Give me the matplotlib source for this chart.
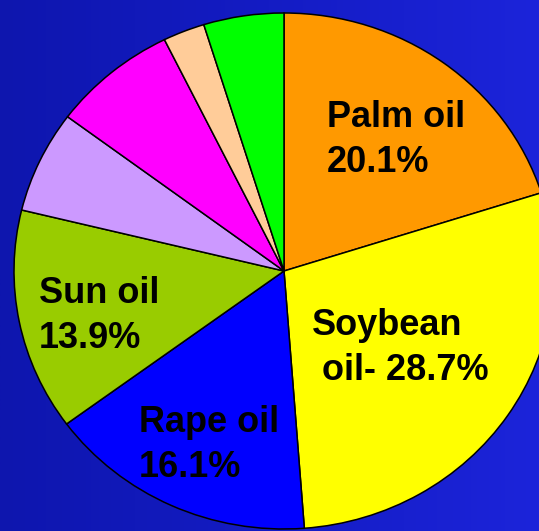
import numpy as np
import matplotlib
matplotlib.use('Agg')
import matplotlib.pyplot as plt
from matplotlib.colors import LinearSegmentedColormap

# 植物油の生産シェア（%）
oils = ['Palm oil', 'Soybean oil', 'Rape oil', 'Sun oil', 'Cotton oil', 'Peanut oil', 'Olive oil', 'Other']
shares = [20.1, 28.7, 16.1, 13.9, 6.4, 7.5, 2.5, 4.8]
colors = ['#FF9900', '#FFFF00', '#0000FF', '#99CC00', '#CC99FF', '#FF00FF', '#FFCC99', '#00FF00']

# ラベル (1行目, 2行目)
label_lines = [('Palm oil', '20.1%'), ('Soybean', ' oil- 28.7%'), ('Rape oil', '16.1%'), ('Sun oil', '13.9%')]
label_pos = [(327, 127), (312, 335), (139, 432), (39, 303)]  # 左端, 1行目ベースライン (px)

W, H = 539, 531
fig = plt.figure(figsize=(W / 100, H / 100), dpi=100)

# 背景のグラデーション
bg = fig.add_axes([0, 0, 1, 1])
cmap = LinearSegmentedColormap.from_list('bg', ['#0E16AE', '#141CC4', '#1C24DA'])
grad = np.linspace(0, 1, 256).reshape(1, -1)
bg.imshow(grad, cmap=cmap, aspect='auto', extent=[0, 1, 0, 1])
bg.axis('off')

# 楕円の円グラフ (rx=270, ry=258, 中心 284,271)
cx, cy, rx, ry = 284, 271, 270, 258
ax = fig.add_axes([(cx - rx) / W, (H - cy - ry) / H, 2 * rx / W, 2 * ry / H])
ax.pie(shares, colors=colors, startangle=90, counterclock=False,
       wedgeprops=dict(edgecolor='black', linewidth=1.1))
ax.set_aspect('auto')
ax.set_xlim(-1, 1)
ax.set_ylim(-1, 1)
ax.axis('off')

for (l1, l2), (x, y) in zip(label_lines, label_pos):
    for i, s in enumerate((l1, l2)):
        fig.text(x / W, 1 - (y + i * 45) / H, s, fontsize=26, fontweight='bold',
                 family='Liberation Sans', ha='left', va='baseline', color='black')

plt.savefig('out.png', dpi=100)
